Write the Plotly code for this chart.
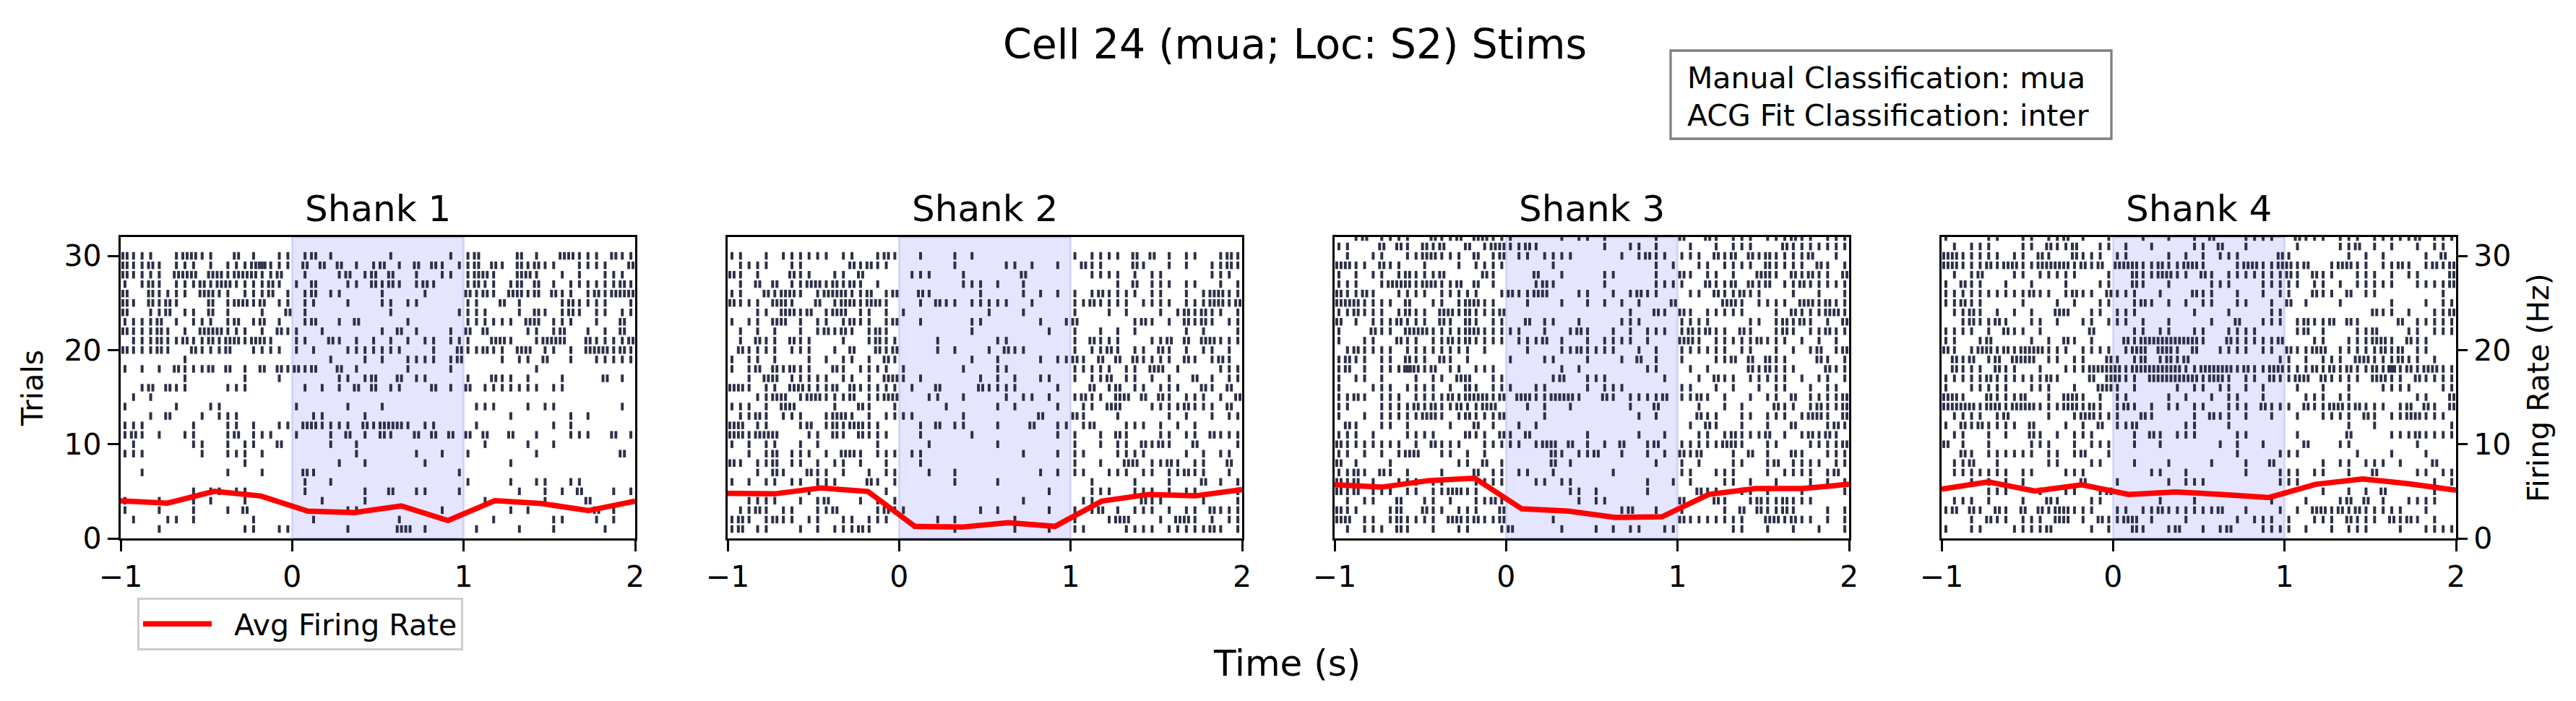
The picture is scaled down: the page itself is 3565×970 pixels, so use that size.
import plotly.graph_objects as go

# ---------------- data ----------------
# Raster rows: one string per trial, top row first. Each character is a
# 0.05 s bin from -1 s to 2 s ('.' = no spike, digit = spike count).
BIN_START = -1.0
BIN_WIDTH = 0.05

SHANK1_ROWS = [
    "2111..1221" "1..2.1..11" ".12.1....." ".1......1." "12....2.1." ".22111.211",
    "21121.111." "1.11123111" ".2.2.2.1.1" "2.1.2.21.1" "12.21.2121" "1..1111..2",
    "21111.222." "221222112." ".1...12.12" ".2..1..11." "1221..221." ".1.1..111.",
    "1.121.1112" "122111121." "1.2...11.2" "121.121..." "1211.12.2." "1.11111121",
    "2..21111.2" "211.1112.1" ".12.11...." "1....1...." "2121.2212." "211.121222",
    "21.2121..." "2.12212.11" ".11...1..." "11.11....." "11..2.1..." ".121111..1",
    "2..112.11." "2.1...1..2" ".1........" ".1.......1" "111...1.21" ".121.11.11",
    "11112.1.11" "1.12.12.1." ".12..1.2.." "...1......" "111111.22." "111..1..2.",
    "211121.1.2" "22111.1.21" "1..1......" "1.2.1...1." "2.2....11." "12..1.1.2.",
    ".111211211" "21221221.." "11..21.1.1" ".1.1.11.11" "1..221..12" "22..211112",
    "211121..21" "112..1111." "1.1...1111" "111...1..2" "11211.22.1" "1.1.222121",
    ".......1.." ".........." "....1...1." "1..1111.12" "....1.11.2" "..1..11111",
    "1.1.1.2111" "2.2.1.2.21" "212..2.1.." "...1....1." "........1." "..........",
    ".......1.." "....1...1." ".....11.12" "..2.11...." "1..211.1.." ".1....2.1.",
    "..12.211.." "..111....." ".1.1.1.2.2" ".11...2.1." "2.1111111." "11........",
    ".1.1......" ".........." ".........." ".........." ".........." "..........",
    "1.....1..." "11........" "1.....1..." "1........." ".111...1.1" "1.......1.",
    "...1.2...1" ".111......" "..11....1." ".........." ".....1...." "..1.1.....",
    "111.....1." "..11.1..11" ".221111.21" "2221.11..." ".1........" "1.1.......",
    "121.1..11." "..12.111.." "1...1.2.1." "21..2.2.2." "2.2..2..1." "..111..2.1",
    ".1......11" "..1.11..2." "....1..1.." ".........." "..1....1.." "1.........",
    "111......1" "..111.1..." ".......1.." "....1..1.." "1.......1." "........2.",
    ".........." "....1....." ".....1..1." ".....1...." ".....1...." "..........",
    "..1......." "..1...1..." ".21......." ".........1" ".........." "..........",
    ".........." ".........." ".1..1....." ".........." "1....1..11" "..11......",
    "........1." "11.11....." ".1......1." ".2..11...1" "......1..1" ".1.2...1.1",
    "1...1...1." "1...1....." "...1....1." ".........." "..1......1" "....2.....",
    "1...1...1." "..1.2....." "......11.." ".......1.." ".....1.1.." ".....2.1..",
    ".1...11.1." ".....1...." "..1......." "..1......." "...1......" "11...1.1..",
    "....1....." "....11..11" "......1..." "..22.1...." ".1....1..." "1.....1...",
]

SHANK2_ROWS = [
    "11..1.1111" "11.11..121" "..1...1.1." ".........." "1.1111.2.2" ".1.11..121",
    ".1111..11." "....21211." "......1..." "..11.1..1." ".211...21." ".1.1..1121",
    "21.1...211" "..11.2...." ".111...1.." "....2....." "..1111.1.1" "1.....111.",
    ".1.2.2.112" "212121.1.." ".......111" ".1..1....." ".....1.2.1" "11.11..1.1",
    "11..21221." "1222112.12" "..21.....1" "....1.1.1." "1.121111.1" "1..1.12211",
    "2111.221.." "2.1221221." "..1.211.11" "111..1...." "1121111.11" "11.1112212",
    "...11.2212" ".122.11.1." "1........." "1...1....." "1...1.1..." "1.121211.1",
    "1.11.22.1." "11.1211.12" "..1.....11" "......1..1" "2......121" ".1.2121.11",
    ".1.1.1..1." "12121.121." "........1." ".......1.." "1..1.1.1.." "...1.1...1",
    ".1.211.211" "...1..1211" "....1....." ".11......." "1.2111...1" "12.2.22111",
    ".21111.111" "..1.2..212" "....1.1..." "1.211....." "1.1121.11." "21.1.11.1.",
    "1.11.1...1" ".1.11.1.21" "........1." ".1....1.11" "21.2.2.211" "11.21.121.",
    "1.12.21211" "..21.1111." "1......1.." ".11......." "11111.11.2" "2.1....111",
    "..1.22.111" "11.11.1.22" "1.1......1" ".1.1..11.." "1.112.11.1" ".1..2.1.11",
    "221.11.221" "112.211111" ".1..2....2" "1111....1." "..2.12.11." "111..21.2.",
    "...1122.12" "21112.1122" "...11..1.." "..1.11.1.." "1211.22.2." "21.111.1.2",
    "111.1.22.." "..1..21..1" ".....1...." ".1.1....1." ".11.22...1" "1112111.2.",
    ".1121.111." ".1221.1.11" "11.....1.." "......2..." "21...1...." ".1.1..1.11",
    "22.11...12" ".1212211.." "..1.2.11.." ".1...2..11" ".12...111." "1.1.1.....",
    "221222...1" "1.21.2111." "..1.....1." "........1." "1..1.21..." "11.11.2111",
    "1.1.11..1." "1......1.." "...1......" ".1........" "1..1.11.21" "21..2....1",
    "..1.12.111" ".1.221.111" ".11......." "....1...1." "11...1111." "...1.1.11.",
    "21.112.11." "1.11.1..1." "..1......." ".........." "1..1..22.1" "121.11..2.",
    "...1.21..2" "11.1..1.11" "...1..1..." "......1.1." "11..111.11" ".11211..1.",
    "1.1.11.11." "111...21.1" "......1..." ".1........" "..1....1.." ".1...2.1.1",
    ".........1" "........1." ".........." ".......1.." "..111..111" ".1.11....1",
    "..1111..1." "12...1.1.1" ".........." "....1....." ".11.....21" "1....1...1",
    ".1121.11.." "112....121" "1........1" ".1.....1.." "1.12.1.111" ".1.11.2111",
    "121.1211.1" "1..11.111." "....1.1..." "...1......" "1...122..." "1.221.1.11",
    "12.11...1." "1.11121..." "......1..." "...1...1.." "11....1111" ".1111121.1",
]

SHANK3_ROWS = [
    "..12.1111." ".2112.2211" "1.....1.11" ".1.....1.." "2..21.111." "111211.111",
    "11...2.21." "212..2.122" "1121......" ".1..11.1.." ".1..1.111." "..21111111",
    ".1..11..11" "22111.2.12" ".11.1111.." "...1.1211." "111.212.21" "211112..1.",
    "2211.211.." "1...1.1111" ".....1...." ".......1.1" "..11.1111." "21111.21.1",
    "1.1.11.121" "112....21." "...2..1..." ".11....1.." "21.11.1..2" "21.21211.2",
    "111..12221" "22112.2.1." "...121...." ".1.....111" "1..2112.21" "2.11211111",
    "21121..111" "1.11111..1" "21122...11" "..1.1211.." ".11.211211" "...1..1..1",
    "2221111.2." ".11.12211." "..1...1..1" ".1.1.1...2" ".....221.1" "111.221211",
    "112111.121" "1.22121112" ".........." "....1..21." "21.11111.." ".1.2111221",
    "2.1.111211" "1.21.21.11" "..2.11..1." "...111...." "1111....11" ".12121.1.2",
    "1...211.22" "2111122111" "11..1..121" "..1.1.111." "121211.21." ".121.11211",
    "1..11..211" ".112121111" ".1112.1..1" ".1111.1..." "221.111112" "111.1.1.1.",
    ".121111.11" "111111.1.." "..1...1121" "111..1.1.." "111111.11." ".1.1.12.12",
    "1211.11.21" "1.21.1...." "1...11...1" "...1.2.1.." "1...112.2." "211...21.1",
    "12.1.11132" "12.11.111." "......1.1." "......11.." ".1.1....21" "2111...211",
    "1.11.1...1" ".11.22..11" ".....12..1" "11......1." "..1.211.11" "111.1.11.1",
    "1...111.11" "11.1.21.11" "1..11....1" ".111......" "11..1.1..1" ".11..1.11.",
    "1121.111.1" "1112122212" ".22112221." ".21.11112." "1121.1..1." "11.2.11112",
    "11...11112" "121121122." "..1.1..1.." "....1..2.." "..1..1.1.." ".211.12112",
    "1..1.11111" "221.121112" "....1....." ".....1.1.." "..211..11." "111.1221.2",
    ".21..11.1." "...1..2.1." ".1.1......" ".........." ".1.21..1.." "1..2...121",
    "111.1...11" "11...211.2" "1.2......1" ".....1..1." "..11.12111" "2.1.12121.",
    "21111111.1" ".2111..111" "11.122.2.1" ".1.2..12.." "11111221.." "11...11112",
    "11.1.1.122" "..11.1.1.." ".....21.11" "2..1..1.1." "212...1.2." "1..21..111",
    "2.1...1..." "....11.2.1" ".....2.1.." ".......1.." "1.1...11.." "12.1111.11",
    "1121.21.1." "..1...2.11" ".11..1...." "..1......." "11..111..." "1.1111.12.",
    "212.1..111" ".11...1111" "...11.11.." "......1..1" ".1...11.1." ".1...1.1.1",
    "212.111.11" ".112211..." ".......11." "1.....1..." "..211..11." "1...1....1",
    ".1.11..2.." "11.1..1121" "........1." "11........" "2...21..12" "112111....",
    "211...12.." "211.111..2" ".........." "...12..1.." "1....1.2.2" "1121...1.1",
    "22.11.1211" "11.2212112" ".....1...." ".........." "21111111.." "221211.1.1",
    ".1.111.21." ".1..11...1" "2.....1..." "1.1.11..11" "......11.." "1..1..1..1",
]

SHANK4_ROWS = [
    "1....11..1" "1.112.1..1" "...1..1..1" ".2...1111." ".2111.111." "111112.111",
    ".1.111...1" "1.2112..11" ".1..1....1" "1.2..1...." ".1....112." "1.1..1.11.",
    "2211111.11" ".21..2111." "11....1.1." "1.111....2" "1......1.1" ".1....1.2.",
    "2211121221" "122221212." "2221121122" "1...122112" "212..12211" ".1121.1212",
    ".1.12...11" ".11111...1" "..2112211." "21.1111111" "21.211..11" "1.1.11...2",
    "1.211..1.." "1...1...11" "..21..1..." ".111...111" "11.11.1.11" "111..11112",
    "1111111111" "211.1211.2" "111..1...2" "11..1..1.1" "1..211.2.1" "1.......1.",
    "11211....1" "...1.1..11" "..121.1.1." "11..11..1." "2.1...1..." "..1...1.11",
    ".1121.1.1." "1..22..11." "111......1" "...1....11" ".........." "211.1..112",
    "..121121.." "11.1..11.1" "11.1..1..." ".1..2..111" ".12112.21." "...2.11111",
    "1111.1.211" ".1.....2.." "..11.11..1" "1..1111..." ".12.1...11" "2...11.111",
    "11..12...." "1.1.21.1.." ".212222222" "1..2111112" "...11..111" "221.211...",
    "21.1221212" "22111.1111" ".122.221.2" "..1111.11." "21122.1111" "1212.11...",
    ".212.12.22" "2.11.11..2" "1.12.1212." ".........1" "1.1.111.22" "111211.1..",
    ".2111.211." ".1..111222" "2122222211" "2222121122" "1112121211" "2131212211",
    "1111121111" "1121...2.2" "211.222222" "1221.11.21" "122.21111." "2211.21111",
    "1..11111.." "111..1..22" "1.1....1.1" "1.11.1.1.." ".1..1..1.." ".1111...11",
    "221..21112" "..1.221.1." "11....1.1." ".1.11..1.." "..111.11.." ".....11..2",
    "2222122122" "211122121." "121.1.11.1" "1..111.211" "1.21122121" "11.12.21.2",
    ".1111.12.." "..1..12211" "1..21....1" ".211.1..1." ".1..1111.2" "1.1122111.",
    "1.2121111." "2...1.1.2." "112.....11" "...1......" ".......1.." "1........1",
    ".11..1.1.." "21.1.111.." "..1.21.111" "....11...." ".1.....2.." "..11121111",
    "2.1..1...." "111..1.111" "..1..1...." "..1.1..1.." "..2...11.." ".....1....",
    "..21.11111" "1.11.12..1" ".........." "....1....1" "11......1." "..1...1...",
    ".112..1..." "..11...11." "..1...1..." ".1...1..2." "....1.11.1" "11.1...2..",
    ".1111111.1" "1...111..." "....11..1." ".....1...1" "11.11..1.." "2....11.11",
    "...1.1.1.1" "......2..." "1.....1.11" "1........1" "11........" ".......1.1",
    ".....111.." ".1..11..12" ".........." ".........." "....1..1.1" ".2.....1..",
    ".111.1...1" "..21...11." ".....1...1" "........1." "..1...12.2" ".1..1111..",
    "12.21.21.2" ".2122111.." "11.1121111" "112..1...1" ".1.2212121" "1111..1...",
    "...1.211.1" "11.22.1.21" "122.1...1." "....1.111." "1..111.211" "1.2121.1..",
    "1..11...11" "112....1.1" "..21..12.." "1.12...111" "1.1..1.111" "...1..1111",
]

# Average firing rate (Hz), read at these times (s)
RATE_TIMES = [-1.0, -0.727, -0.455, -0.182, 0.091, 0.364, 0.636, 0.909, 1.182, 1.455, 1.727, 2.0]
RATE_SHANK1 = [4.0, 3.75, 5.0, 4.5, 2.9, 2.75, 3.45, 1.9, 4.0, 3.7, 2.95, 3.95]
RATE_SHANK2 = [4.78, 4.73, 5.36, 4.98, 1.28, 1.2, 1.66, 1.28, 3.96, 4.67, 4.52, 5.19]
RATE_SHANK3 = [5.70, 5.44, 6.13, 6.39, 3.14, 2.89, 2.22, 2.30, 4.67, 5.29, 5.29, 5.75]
RATE_SHANK4 = [5.24, 6.0, 5.03, 5.70, 4.67, 4.93, 4.67, 4.34, 5.75, 6.31, 5.80, 5.11]

PANEL_TITLES = ["Shank 1", "Shank 2", "Shank 3", "Shank 4"]
STIM_START, STIM_END = 0.0, 1.0
X_TICKS = [-1, 0, 1, 2]
X_TICK_TEXT = ["\u22121", "0", "1", "2"]
Y_TICKS = [0, 10, 20, 30]
SUPTITLE = "Cell 24 (mua; Loc: S2) Stims"
INFO_LINES = ["Manual Classification: mua", "ACG Fit Classification: inter"]
LEGEND_LABEL = "Avg Firing Rate"

# ---------------- figure ----------------
W, H = 3565, 970
FONT = "DejaVu Sans"
TICK_COLOR = "#2d3047"


def spikes_from_rows(rows):
    xs, ys = [], []
    n = len(rows)
    for i, row in enumerate(rows):
        trial = n - i
        for b, ch in enumerate(row[:60]):
            if ch.isdigit():
                c = int(ch)
                for k in range(c):
                    t = BIN_START + BIN_WIDTH * b + BIN_WIDTH * (k + 0.5) / c
                    xs += [t, t, None]
                    ys += [trial - 0.4, trial + 0.4, None]
    return xs, ys


def px_x(p):
    return p / W


def px_y(p):
    return 1 - p / H


panel_left = [167, 1007, 1847, 2687]
panel_w = 712
y_top, y_bot = 328, 745

fig = go.Figure()
rows_all = [SHANK1_ROWS, SHANK2_ROWS, SHANK3_ROWS, SHANK4_ROWS]
rates_all = [RATE_SHANK1, RATE_SHANK2, RATE_SHANK3, RATE_SHANK4]

axis_common = dict(
    showline=True, linecolor="black", linewidth=3.3, mirror=True,
    showgrid=False, zeroline=False, automargin=False,
    tickfont=dict(family=FONT, size=41, color="black"),
    ticklen=15, tickwidth=3.3, tickcolor="black",
)

for i in range(4):
    xa = "x" if i == 0 else f"x{i+1}"
    ya = "y" if i == 0 else f"y{i+1}"
    sx, sy = spikes_from_rows(rows_all[i])
    fig.add_trace(go.Scatter(
        x=sx, y=sy, mode="lines", xaxis=xa, yaxis=ya,
        line=dict(color=TICK_COLOR, width=4), hoverinfo="skip", showlegend=False,
    ))
    rate_axis = "y5" if i == 3 else ya
    fig.add_trace(go.Scatter(
        x=RATE_TIMES, y=rates_all[i], mode="lines", xaxis=xa, yaxis=rate_axis,
        line=dict(color="red", width=7.5), name="\u00a0\u00a0" + LEGEND_LABEL,
        showlegend=(i == 0), hoverinfo="skip",
    ))
    xk = "xaxis" if i == 0 else f"xaxis{i+1}"
    yk = "yaxis" if i == 0 else f"yaxis{i+1}"
    l = panel_left[i]
    fig.layout[xk] = dict(
        axis_common, domain=[px_x(l), px_x(l + panel_w)], anchor=ya,
        range=[-1, 2], tickvals=X_TICKS, ticktext=X_TICK_TEXT, ticks="outside",
    )
    ydict = dict(
        axis_common, domain=[px_y(y_bot), px_y(y_top)], anchor=xa,
        range=[0, 32], tickvals=Y_TICKS,
    )
    if i == 0:
        ydict.update(ticks="outside", showticklabels=True)
    else:
        ydict.update(ticks="", showticklabels=False)
    fig.layout[yk] = ydict
    fig.add_shape(
        type="rect", xref=xa, yref=f"{ya} domain", x0=STIM_START, x1=STIM_END,
        y0=0, y1=1, fillcolor="rgba(0,0,255,0.1)",
        line=dict(color="rgba(0,0,255,0.12)", width=3), layer="below",
    )
    fig.add_annotation(
        text=PANEL_TITLES[i], xref="paper", yref="paper",
        x=px_x(l + panel_w / 2), y=px_y(289), xanchor="center", yanchor="middle",
        showarrow=False, font=dict(family=FONT, size=50, color="black"),
    )

fig.layout["yaxis5"] = dict(
    overlaying="y4", side="right", anchor="x4", range=[0, 32], tickvals=Y_TICKS,
    showline=False, showgrid=False, zeroline=False, ticks="outside", automargin=False,
    ticklen=15, tickwidth=3.3, tickcolor="black",
    tickfont=dict(family=FONT, size=41, color="black"),
)

# Axis labels
fig.add_annotation(text="Trials", xref="paper", yref="paper", x=px_x(45), y=px_y(537),
                   textangle=-90, showarrow=False, xanchor="center", yanchor="middle",
                   font=dict(family=FONT, size=41, color="black"))
fig.add_annotation(text="Firing Rate (Hz)", xref="paper", yref="paper", x=px_x(3513), y=px_y(537),
                   textangle=-90, showarrow=False, xanchor="center", yanchor="middle",
                   font=dict(family=FONT, size=41, color="black"))
fig.add_annotation(text="Time (s)", xref="paper", yref="paper", x=px_x(1781), y=px_y(918),
                   showarrow=False, xanchor="center", yanchor="middle",
                   font=dict(family=FONT, size=50, color="black"))
fig.add_annotation(text=SUPTITLE, xref="paper", yref="paper", x=px_x(1792), y=px_y(61),
                   showarrow=False, xanchor="center", yanchor="middle",
                   font=dict(family=FONT, size=57, color="black"))

# Info box
fig.add_shape(type="rect", xref="paper", yref="paper",
              x0=px_x(2312), x1=px_x(2922), y0=px_y(192), y1=px_y(70),
              line=dict(color="#808080", width=3.3), fillcolor="white")
for j, (txt, yc) in enumerate(zip(INFO_LINES, [108, 160])):
    fig.add_annotation(text=txt, xref="paper", yref="paper", x=px_x(2333), y=px_y(yc),
                       showarrow=False, xanchor="left", yanchor="middle",
                       font=dict(family=FONT, size=41, color="black"))

fig.update_layout(
    width=W, height=H, margin=dict(l=0, r=0, t=0, b=0, autoexpand=False),
    paper_bgcolor="white", plot_bgcolor="white",
    font=dict(family=FONT, color="black"),
    showlegend=True,
    legend=dict(
        x=px_x(190), y=px_y(827), xanchor="left", yanchor="top",
        bgcolor="white", bordercolor="#cccccc", borderwidth=3,
        font=dict(family=FONT, size=41, color="black"),
        itemwidth=95,
    ),
)

fig.write_html("out.html", config={"displayModeBar": False},
               post_script="document.body.style.margin='0';document.body.style.overflow='hidden';")
